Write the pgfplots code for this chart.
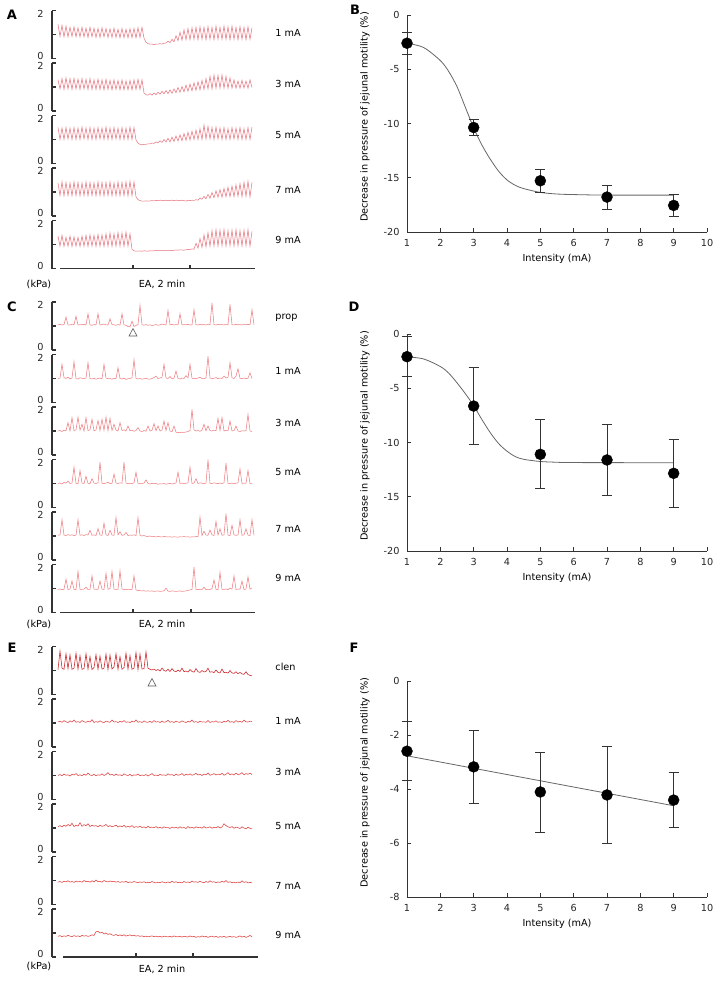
\documentclass[border=0pt]{standalone}
\usepackage{pgfplots}
\pgfplotsset{compat=1.18}
\usepackage{fontspec}
\setmainfont{DejaVu Sans}
\newcommand\fs{\fontsize{9.7bp}{11.5bp}\selectfont}
\newcommand\fl{\fontsize{13bp}{15bp}\selectfont\bfseries}
\definecolor{ta}{RGB}{232,122,132}
\definecolor{tc}{RGB}{238,128,132}
\definecolor{te}{RGB}{226,62,62}
\definecolor{teone}{RGB}{205,30,35}
\pgfplotsset{
 trace/.style={anchor=north west, scale only axis, width=203bp, height=48bp,
   xmin=-3, xmax=98.5, ymin=0, ymax=2, axis x line=none, axis y line=left,
   axis line style={-, line width=1.2bp, black!80},
   ytick={0,1,2}, yticklabels={\raisebox{-0.5bp}[0pt][0pt]{0},,\raisebox{-6.5bp}[0pt][0pt]{2}}, tick align=inside, major tick length=4bp,
   ytick style={line width=1.2bp, black!80},
   yticklabel style={font=\fs, xshift=-5bp, text=black!85}, clip=false},
 timeax/.style={anchor=south west, scale only axis, width=195bp, height=5bp,
   ymin=0, ymax=1, axis x line=bottom, axis y line=none,
   axis line style={-, line width=1.2bp, black!80},
   xticklabels={}, tick align=inside, major tick length=4bp,
   xtick style={line width=1.2bp, black!80}},
 rp/.style={anchor=south west, scale only axis, width=300bp,
   xmin=1, xmax=10, xtick={1,2,...,10}, axis lines=left,
   axis line style={-, line width=0.8bp, black!80},
   tick align=inside, major tick length=4bp, tick style={line width=0.8bp, black!80},
   ticklabel style={font=\fs, text=black!85},
   xticklabel style={yshift=-4bp}, yticklabel style={xshift=-4bp},
   xlabel={Intensity (mA)}, ylabel={Decrease in pressure of jejunal motility (\%)},
   label style={font=\fs, text=black!85},
   every axis x label/.style={at={(axis description cs:0.5,0)}, anchor=north, yshift=-19bp},
   every axis y label/.style={at={(axis description cs:-0.14,0.53)}, rotate=90, anchor=center},
   clip=false, /pgf/number format/assume math mode=true},
 fitline/.style={smooth, black!60, line width=0.8bp, mark=none},
 pts/.style={only marks, mark=*, mark size=5.5bp, black,
   error bars/.cd, y dir=both, y explicit,
   error bar style={line width=0.8bp, black!80},
   error mark options={rotate=90, mark size=5bp, line width=0.8bp, black!80}},
 tr/.style={line width=0.55bp, mark=none}
}
\begin{document}
\begin{tikzpicture}
\path[use as bounding box] (0,0) rectangle (720bp,-982bp);
\fs
% ================= Panel A =================
\node[font=\fl] at (12bp,-15bp) {A};
\begin{axis}[trace, at={(52bp,-10.5bp)}]
\addplot[tr, ta] table[row sep=\\, x expr=\coordindex, y=y] {y\\
1.42\\0.92\\1.38\\0.90\\1.35\\0.90\\1.30\\0.92\\1.32\\0.90\\
1.28\\0.90\\1.30\\0.90\\1.27\\0.88\\1.30\\0.90\\1.26\\0.88\\
1.25\\0.88\\1.28\\0.90\\1.25\\0.88\\1.24\\0.88\\1.26\\0.88\\
1.22\\0.86\\1.25\\0.87\\1.22\\0.86\\1.24\\0.87\\1.25\\0.86\\
1.28\\0.88\\1.30\\0.85\\0.68\\0.62\\0.60\\0.60\\0.58\\0.60\\
0.60\\0.62\\0.60\\0.63\\0.65\\0.72\\0.66\\0.80\\0.70\\0.95\\
0.74\\1.10\\0.76\\1.20\\0.78\\1.25\\0.78\\1.28\\0.80\\1.30\\
0.78\\1.32\\0.80\\1.30\\0.78\\1.33\\0.80\\1.30\\0.78\\1.35\\
0.80\\1.30\\0.80\\1.35\\0.80\\1.32\\0.78\\1.35\\0.80\\1.30\\
0.78\\1.33\\0.80\\1.30\\0.78\\1.32\\0.80\\1.28\\};
\end{axis}
\node[anchor=west] at (272bp,-33bp) {1 mA};
\begin{axis}[trace, at={(52bp,-63bp)}]
\addplot[tr, ta] table[row sep=\\, x expr=\coordindex, y=y] {y\\
1.30\\0.92\\1.35\\0.90\\1.38\\0.92\\1.35\\0.90\\1.36\\0.92\\
1.33\\0.90\\1.35\\0.92\\1.32\\0.90\\1.35\\0.90\\1.30\\0.90\\
1.33\\0.90\\1.30\\0.88\\1.32\\0.90\\1.28\\0.88\\1.30\\0.90\\
1.27\\0.88\\1.30\\0.88\\1.26\\0.88\\1.28\\0.88\\1.30\\0.90\\
1.32\\0.90\\1.30\\0.75\\0.68\\0.66\\0.72\\0.66\\0.75\\0.68\\
0.78\\0.70\\0.82\\0.72\\0.85\\0.72\\0.88\\0.74\\0.92\\0.76\\
0.98\\0.78\\1.02\\0.80\\1.08\\0.82\\1.12\\0.84\\1.18\\0.86\\
1.22\\0.88\\1.28\\0.90\\1.35\\0.92\\1.45\\0.92\\1.50\\0.95\\
1.48\\0.95\\1.50\\0.95\\1.45\\0.95\\1.38\\0.95\\1.30\\0.95\\
1.25\\0.95\\1.28\\0.96\\1.25\\0.95\\1.30\\0.98\\};
\end{axis}
\node[anchor=west] at (272bp,-84bp) {3 mA};
\begin{axis}[trace, at={(52bp,-115.5bp)}]
\addplot[tr, ta] table[row sep=\\, x expr=\coordindex, y=y] {y\\
1.50\\1.00\\1.48\\1.00\\1.50\\1.02\\1.47\\1.00\\1.50\\1.00\\
1.48\\1.00\\1.52\\1.02\\1.48\\1.00\\1.50\\1.00\\1.47\\1.00\\
1.50\\1.02\\1.48\\1.00\\1.52\\1.00\\1.48\\1.00\\1.50\\1.02\\
1.47\\1.00\\1.50\\1.00\\1.48\\1.00\\1.52\\1.00\\1.50\\0.98\\
0.85\\0.80\\0.78\\0.80\\0.80\\0.82\\0.82\\0.85\\0.84\\0.90\\
0.86\\0.95\\0.88\\1.00\\0.90\\1.05\\0.90\\1.10\\0.92\\1.15\\
0.94\\1.20\\0.95\\1.25\\0.96\\1.30\\0.98\\1.35\\1.00\\1.40\\
1.00\\1.45\\1.00\\1.60\\1.02\\1.55\\1.02\\1.50\\1.00\\1.52\\
1.02\\1.48\\1.00\\1.50\\1.00\\1.45\\1.00\\1.50\\1.02\\1.48\\
1.00\\1.50\\1.00\\1.45\\1.00\\1.50\\1.00\\1.52\\};
\end{axis}
\node[anchor=west] at (272bp,-135bp) {5 mA};
\begin{axis}[trace, at={(52bp,-168bp)}]
\addplot[tr, ta] table[row sep=\\, x expr=\coordindex, y=y] {y\\
1.38\\0.85\\1.42\\0.84\\1.40\\0.85\\1.38\\0.84\\1.42\\0.85\\
1.40\\0.84\\1.38\\0.85\\1.42\\0.84\\1.40\\0.85\\1.38\\0.84\\
1.42\\0.85\\1.40\\0.84\\1.40\\0.85\\1.42\\0.84\\1.38\\0.85\\
1.42\\0.84\\1.40\\0.85\\1.42\\0.84\\1.45\\0.85\\1.42\\0.80\\
0.68\\0.64\\0.62\\0.62\\0.63\\0.62\\0.63\\0.64\\0.63\\0.65\\
0.64\\0.66\\0.65\\0.64\\0.66\\0.64\\0.65\\0.66\\0.64\\0.66\\
0.65\\0.64\\0.66\\0.64\\0.62\\0.66\\0.64\\0.66\\0.65\\0.68\\
0.66\\0.75\\0.70\\0.82\\0.72\\0.90\\0.74\\0.98\\0.76\\1.05\\
0.78\\1.10\\0.78\\1.15\\0.80\\1.20\\0.80\\1.25\\0.80\\1.30\\
0.82\\1.35\\0.80\\1.40\\0.82\\1.45\\0.80\\1.40\\};
\end{axis}
\node[anchor=west] at (272bp,-190bp) {7 mA};
\begin{axis}[trace, at={(52bp,-220.5bp)}]
\addplot[tr, ta] table[row sep=\\, x expr=\coordindex, y=y] {y\\
1.35\\0.93\\1.38\\0.92\\1.30\\0.93\\1.35\\0.92\\1.32\\0.93\\
1.30\\0.92\\1.35\\0.93\\1.38\\0.92\\1.40\\0.93\\1.38\\0.92\\
1.42\\0.93\\1.40\\0.92\\1.45\\0.93\\1.48\\0.92\\1.45\\0.93\\
1.50\\0.93\\1.48\\0.92\\1.52\\0.93\\1.45\\0.80\\0.74\\0.72\\
0.72\\0.73\\0.72\\0.74\\0.73\\0.72\\0.74\\0.73\\0.74\\0.75\\
0.74\\0.75\\0.74\\0.76\\0.75\\0.74\\0.76\\0.75\\0.76\\0.77\\
0.76\\0.78\\0.77\\0.76\\0.78\\0.80\\0.78\\0.82\\0.80\\1.05\\
0.85\\1.25\\0.88\\1.40\\0.90\\1.50\\0.92\\1.58\\0.93\\1.62\\
0.93\\1.60\\0.95\\1.62\\0.93\\1.58\\0.95\\1.60\\0.93\\1.62\\
0.95\\1.58\\0.93\\1.60\\0.95\\1.62\\0.93\\1.55\\};
\end{axis}
\node[anchor=west] at (272bp,-240bp) {9 mA};
\begin{axis}[timeax, at={(60bp,-268.5bp)}, xmin=60, xmax=255, xtick={133,190}]
\end{axis}
\node at (39bp,-284bp) {(kPa)};
\node at (162bp,-284bp) {EA, 2 min};
% ================= Panel C =================
\node[font=\fl] at (12bp,-307bp) {C};
\begin{axis}[trace, at={(52bp,-302bp)}]
\addplot[tr, tc] table[row sep=\\, x expr=\coordindex, y=y] {y\\
1.05\\1.07\\1.04\\1.06\\1.37\\1.05\\1.04\\1.08\\1.05\\1.41\\
1.04\\1.06\\1.05\\1.07\\1.04\\1.51\\1.05\\1.03\\1.06\\1.05\\
1.51\\1.04\\1.06\\1.08\\1.05\\1.04\\1.30\\1.06\\1.05\\1.03\\
1.06\\1.04\\1.51\\1.05\\1.03\\0.98\\0.96\\1.20\\0.98\\1.02\\
1.06\\1.86\\1.05\\1.04\\1.06\\1.03\\1.05\\1.02\\1.04\\1.06\\
1.03\\1.05\\1.08\\1.06\\1.04\\1.65\\1.05\\1.07\\1.04\\1.06\\
1.05\\1.51\\1.04\\1.06\\1.05\\1.07\\1.04\\1.05\\1.68\\1.06\\
1.04\\1.07\\1.05\\1.06\\1.04\\1.08\\1.05\\1.96\\1.06\\1.04\\
1.07\\1.05\\1.06\\1.04\\1.08\\1.05\\1.90\\1.06\\1.04\\1.07\\
1.05\\1.06\\1.04\\1.08\\1.05\\1.07\\1.05\\1.68\\1.06\\};
\end{axis}
\node[anchor=west] at (272bp,-318bp) {prop};
\draw[black!65, line width=0.6bp] (129bp,-336bp) -- (137bp,-336bp) -- (133bp,-328.5bp) -- cycle;
\begin{axis}[trace, at={(52bp,-354.5bp)}]
\addplot[tr, tc] table[row sep=\\, x expr=\coordindex, y=y] {y\\
1.00\\1.02\\1.59\\1.04\\1.00\\1.06\\0.98\\1.02\\1.70\\1.00\\
0.98\\1.03\\1.01\\0.99\\1.02\\1.66\\1.00\\0.98\\1.01\\0.97\\
1.00\\1.02\\0.98\\1.59\\1.02\\0.99\\1.00\\0.97\\1.01\\0.99\\
1.45\\1.00\\0.98\\1.02\\0.96\\0.99\\1.00\\1.03\\1.79\\1.01\\
0.98\\1.00\\0.97\\0.99\\1.01\\0.98\\0.97\\1.00\\1.04\\1.10\\
1.00\\1.02\\1.05\\1.59\\1.02\\1.00\\1.08\\0.99\\1.01\\1.31\\
1.00\\0.98\\1.02\\1.00\\1.12\\1.03\\1.59\\1.01\\1.00\\0.99\\
1.02\\1.05\\1.00\\0.99\\1.03\\1.93\\1.02\\1.00\\1.01\\1.04\\
0.99\\1.02\\1.00\\1.10\\1.02\\1.05\\1.66\\1.03\\1.00\\1.10\\
1.41\\1.01\\1.00\\1.02\\0.99\\1.01\\1.24\\1.00\\};
\end{axis}
\node[anchor=west] at (272bp,-371bp) {1 mA};
\begin{axis}[trace, at={(52bp,-407bp)}]
\addplot[tr, tc] table[row sep=\\, x expr=\coordindex, y=y] {y\\
1.00\\1.02\\0.98\\1.04\\1.01\\1.35\\1.00\\1.56\\1.02\\1.05\\
1.58\\1.03\\1.28\\1.00\\1.56\\1.02\\1.05\\1.49\\1.01\\1.04\\
1.44\\1.02\\1.49\\1.03\\1.58\\1.01\\1.53\\1.02\\1.28\\1.04\\
1.00\\1.35\\1.02\\1.05\\1.00\\1.21\\1.01\\1.03\\0.99\\1.02\\
1.14\\1.00\\0.98\\1.02\\0.99\\1.21\\1.00\\1.03\\1.31\\1.01\\
1.21\\1.00\\1.04\\1.42\\1.02\\1.35\\1.00\\0.97\\1.21\\0.95\\
0.94\\0.93\\0.95\\0.94\\0.96\\0.98\\1.02\\1.90\\1.05\\1.00\\
1.02\\0.99\\1.03\\1.28\\1.01\\1.21\\1.02\\1.00\\1.04\\1.01\\
1.53\\1.02\\1.56\\1.00\\1.03\\1.01\\1.42\\1.00\\1.02\\1.21\\
1.00\\0.98\\1.01\\1.00\\1.02\\1.69\\1.00\\0.98\\};
\end{axis}
\node[anchor=west] at (272bp,-423bp) {3 mA};
\begin{axis}[trace, at={(52bp,-459.5bp)}]
\addplot[tr, tc] table[row sep=\\, x expr=\coordindex, y=y] {y\\
1.00\\1.02\\0.98\\1.05\\1.01\\1.10\\1.00\\1.02\\1.68\\1.01\\
0.99\\1.54\\1.02\\1.00\\1.30\\1.01\\0.99\\1.20\\1.02\\1.00\\
1.03\\1.89\\1.01\\0.99\\1.02\\1.05\\1.00\\1.01\\1.40\\1.02\\
1.00\\1.03\\1.01\\1.89\\1.02\\0.99\\1.01\\1.00\\1.03\\1.47\\
1.01\\0.99\\1.00\\1.02\\1.15\\1.00\\0.98\\1.01\\0.99\\1.00\\
0.97\\0.99\\0.98\\1.00\\0.97\\0.99\\1.01\\0.98\\1.00\\1.02\\
1.47\\1.00\\1.02\\0.99\\1.01\\1.03\\1.68\\1.00\\1.02\\1.20\\
1.00\\1.03\\1.01\\0.99\\1.02\\1.99\\1.01\\1.00\\1.03\\1.01\\
0.99\\1.02\\1.00\\1.03\\1.85\\1.01\\1.00\\1.02\\0.99\\1.01\\
1.03\\1.61\\1.00\\1.02\\1.01\\1.54\\1.00\\0.99\\};
\end{axis}
\node[anchor=west] at (272bp,-472bp) {5 mA};
\begin{axis}[trace, at={(52bp,-512bp)}]
\addplot[tr, tc] table[row sep=\\, x expr=\coordindex, y=y] {y\\
1.03\\1.05\\1.68\\1.04\\1.02\\1.06\\1.03\\1.05\\1.02\\1.04\\
1.68\\1.03\\1.05\\1.02\\1.06\\1.04\\1.24\\1.03\\1.05\\1.02\\
1.31\\1.04\\1.03\\1.54\\1.05\\1.02\\1.24\\1.04\\1.03\\1.77\\
1.05\\1.18\\1.03\\1.04\\1.15\\1.02\\1.04\\1.03\\1.05\\1.02\\
1.77\\1.03\\1.00\\1.02\\0.99\\0.98\\1.00\\0.97\\0.98\\0.96\\
0.98\\0.97\\0.96\\0.98\\0.97\\0.96\\0.97\\0.95\\0.97\\0.96\\
0.95\\0.97\\0.96\\0.98\\0.96\\0.97\\0.95\\0.97\\0.96\\0.98\\
0.97\\1.79\\1.02\\1.20\\1.04\\1.03\\1.25\\1.05\\1.02\\1.61\\
1.04\\1.30\\1.03\\1.05\\1.93\\1.04\\1.02\\1.45\\1.05\\1.03\\
1.04\\1.68\\1.03\\1.05\\1.30\\1.04\\1.02\\1.68\\1.04\\};
\end{axis}
\node[anchor=west] at (272bp,-529bp) {7 mA};
\begin{axis}[trace, at={(52bp,-564.5bp)}]
\addplot[tr, tc] table[row sep=\\, x expr=\coordindex, y=y] {y\\
0.96\\0.98\\0.95\\0.97\\1.39\\0.96\\0.98\\1.31\\0.97\\0.95\\
1.71\\0.97\\0.96\\0.98\\1.05\\0.96\\0.97\\1.53\\0.98\\0.96\\
0.97\\1.31\\0.98\\0.96\\1.63\\0.97\\1.00\\1.71\\0.98\\0.96\\
0.97\\1.74\\0.98\\0.96\\0.95\\0.97\\0.96\\0.95\\1.53\\0.94\\
0.92\\0.91\\0.90\\0.91\\0.89\\0.90\\0.89\\0.90\\0.88\\0.89\\
0.90\\0.88\\0.89\\0.90\\1.02\\0.89\\0.88\\0.90\\0.89\\0.88\\
0.89\\0.90\\0.88\\0.89\\0.90\\0.92\\0.94\\0.96\\1.89\\0.97\\
0.95\\0.97\\0.96\\1.05\\0.95\\0.97\\0.96\\1.00\\1.36\\0.97\\
0.95\\1.67\\0.97\\0.96\\0.98\\0.95\\1.02\\0.97\\1.53\\0.96\\
0.98\\0.97\\1.31\\0.96\\0.98\\1.49\\0.97\\1.03\\};
\end{axis}
\node[anchor=west] at (272bp,-578bp) {9 mA};
\begin{axis}[timeax, at={(60bp,-612.5bp)}, xmin=60, xmax=255, xtick={133,191}]
\end{axis}
\node at (39bp,-624bp) {(kPa)};
\node at (162bp,-624bp) {EA, 2 min};
% ================= Panel E =================
\node[font=\fl] at (12bp,-648bp) {E};
\begin{axis}[trace, at={(52bp,-646.5bp)}]
\addplot[tr, teone] table[row sep=\\, x expr=\coordindex, y=y] {y\\
1.04\\1.81\\1.10\\1.05\\1.70\\1.08\\1.65\\1.05\\1.10\\1.72\\
1.06\\1.62\\1.05\\1.08\\1.70\\1.06\\1.58\\1.04\\1.12\\1.66\\
1.05\\1.60\\1.06\\1.10\\1.68\\1.04\\1.64\\1.06\\1.15\\1.70\\
1.05\\1.58\\1.05\\1.12\\1.72\\1.06\\1.62\\1.05\\1.10\\1.75\\
1.04\\1.68\\1.06\\1.08\\1.78\\1.10\\1.05\\1.02\\1.06\\1.00\\
1.04\\0.98\\1.10\\1.00\\0.97\\1.05\\0.96\\1.08\\0.98\\0.95\\
1.02\\0.96\\1.10\\0.95\\0.98\\0.94\\1.04\\0.96\\0.93\\1.08\\
0.95\\0.92\\1.00\\0.94\\0.96\\1.10\\0.93\\0.95\\0.91\\1.02\\
0.92\\0.90\\1.06\\0.91\\0.93\\0.89\\1.00\\0.90\\0.88\\0.95\\
0.87\\0.92\\0.86\\0.84\\0.95\\0.83\\0.80\\0.78\\};
\end{axis}
\node[anchor=west] at (272bp,-667bp) {clen};
\draw[black!65, line width=0.6bp] (148bp,-686bp) -- (156bp,-686bp) -- (152bp,-678.5bp) -- cycle;
\begin{axis}[trace, at={(52bp,-699bp)}]
\addplot[tr, te] table[row sep=\\, x expr=\coordindex, y=y] {y\\
1.04\\1.08\\1.03\\1.10\\1.05\\1.02\\1.09\\1.04\\1.12\\1.03\\
1.06\\1.02\\1.10\\1.05\\1.03\\1.08\\1.04\\1.14\\1.02\\1.06\\
1.03\\1.09\\1.04\\1.02\\1.08\\1.05\\1.03\\1.12\\1.04\\1.06\\
1.02\\1.07\\1.04\\1.10\\1.03\\1.05\\1.02\\1.08\\1.04\\1.13\\
1.03\\1.06\\1.02\\1.09\\1.04\\1.03\\1.07\\1.02\\1.10\\1.04\\
1.06\\1.02\\1.08\\1.03\\1.05\\1.11\\1.03\\1.06\\1.02\\1.08\\
1.04\\1.03\\1.09\\1.05\\1.02\\1.07\\1.04\\1.12\\1.03\\1.06\\
1.02\\1.08\\1.04\\1.05\\1.03\\1.10\\1.02\\1.06\\1.04\\1.09\\
1.03\\1.05\\1.02\\1.08\\1.04\\1.11\\1.03\\1.06\\1.02\\1.10\\
1.04\\1.07\\1.03\\1.12\\1.05\\1.04\\1.08\\1.06\\};
\end{axis}
\node[anchor=west] at (272bp,-721bp) {1 mA};
\begin{axis}[trace, at={(52bp,-751.5bp)}]
\addplot[tr, te] table[row sep=\\, x expr=\coordindex, y=y] {y\\
1.00\\1.04\\0.99\\1.06\\1.01\\1.03\\0.98\\1.05\\1.02\\1.08\\
1.00\\1.03\\0.99\\1.06\\1.01\\1.10\\1.02\\1.00\\1.05\\0.99\\
1.03\\1.01\\1.07\\1.00\\1.04\\1.12\\1.02\\1.05\\1.00\\1.06\\
1.01\\1.03\\0.99\\1.07\\1.02\\1.00\\1.05\\0.98\\1.03\\1.01\\
1.06\\0.99\\1.02\\1.00\\1.04\\0.98\\1.03\\1.08\\1.00\\1.02\\
0.99\\1.05\\1.01\\1.03\\1.00\\1.07\\1.02\\1.04\\0.99\\1.06\\
1.01\\1.03\\1.08\\1.00\\1.05\\1.02\\1.07\\1.01\\1.04\\1.09\\
1.02\\1.05\\1.00\\1.06\\1.03\\1.10\\1.01\\1.04\\1.08\\1.02\\
1.06\\1.03\\1.09\\1.01\\1.05\\1.12\\1.03\\1.07\\1.02\\1.10\\
1.04\\1.06\\1.12\\1.03\\1.08\\1.05\\1.10\\1.04\\};
\end{axis}
\node[anchor=west] at (272bp,-772bp) {3 mA};
\begin{axis}[trace, at={(52bp,-804bp)}]
\addplot[tr, te] table[row sep=\\, x expr=\coordindex, y=y] {y\\
1.06\\1.10\\1.05\\1.12\\1.07\\1.15\\1.08\\1.20\\1.06\\1.12\\
1.08\\1.22\\1.07\\1.14\\1.10\\1.18\\1.06\\1.12\\1.08\\1.10\\
1.05\\1.12\\1.07\\1.09\\1.15\\1.06\\1.10\\1.05\\1.08\\1.12\\
1.04\\1.09\\1.05\\1.11\\1.03\\1.07\\1.04\\1.10\\1.02\\1.06\\
1.03\\1.08\\1.02\\1.05\\1.00\\1.07\\1.02\\1.04\\1.01\\1.06\\
1.00\\1.03\\0.99\\1.05\\1.01\\1.02\\0.98\\1.04\\1.00\\1.03\\
0.99\\1.05\\1.00\\1.02\\0.98\\1.06\\1.00\\1.03\\0.99\\1.05\\
1.01\\1.04\\0.99\\1.06\\1.00\\1.02\\1.05\\0.99\\1.03\\1.01\\
1.06\\1.00\\1.04\\1.18\\1.10\\1.05\\1.02\\1.06\\0.99\\1.04\\
1.01\\0.98\\1.05\\1.00\\0.97\\1.03\\0.99\\0.96\\};
\end{axis}
\node[anchor=west] at (272bp,-826bp) {5 mA};
\begin{axis}[trace, at={(52bp,-856.5bp)}]
\addplot[tr, te] table[row sep=\\, x expr=\coordindex, y=y] {y\\
0.93\\0.96\\0.92\\0.97\\0.94\\0.99\\0.93\\0.96\\0.92\\0.98\\
0.94\\0.96\\0.93\\1.00\\0.95\\0.97\\0.93\\0.99\\0.94\\1.02\\
0.95\\0.97\\0.93\\1.00\\0.96\\0.94\\0.98\\0.95\\0.97\\0.93\\
0.96\\0.92\\0.95\\0.93\\0.97\\0.91\\0.94\\0.92\\0.96\\0.93\\
0.91\\0.94\\0.92\\0.95\\0.90\\0.93\\0.91\\0.96\\0.92\\0.90\\
0.93\\0.91\\0.95\\0.92\\0.90\\0.94\\0.91\\0.97\\0.92\\0.95\\
0.91\\0.93\\0.90\\0.96\\0.92\\0.94\\0.91\\0.98\\0.93\\0.95\\
0.92\\0.97\\0.93\\0.91\\0.96\\0.92\\0.99\\0.93\\0.95\\0.91\\
0.94\\0.92\\0.97\\0.93\\1.00\\0.92\\0.95\\0.91\\0.93\\0.90\\
0.94\\0.91\\0.99\\0.92\\0.95\\0.90\\0.92\\0.91\\};
\end{axis}
\node[anchor=west] at (272bp,-886bp) {7 mA};
\begin{axis}[trace, at={(52bp,-909bp)}]
\addplot[tr, te] table[row sep=\\, x expr=\coordindex, y=y] {y\\
0.86\\0.89\\0.85\\0.88\\0.86\\0.90\\0.87\\0.85\\0.89\\0.86\\
0.88\\0.85\\0.90\\0.87\\0.89\\0.86\\0.88\\0.92\\0.90\\1.05\\
1.07\\1.00\\1.03\\0.96\\1.00\\0.94\\0.97\\0.92\\0.90\\0.94\\
0.89\\0.92\\0.88\\0.93\\0.87\\0.90\\0.92\\0.88\\0.91\\0.87\\
0.89\\0.86\\0.88\\0.85\\0.87\\0.84\\0.86\\0.88\\0.85\\0.87\\
0.84\\0.86\\0.83\\0.87\\0.85\\0.84\\0.86\\0.83\\0.88\\0.85\\
0.84\\0.87\\0.83\\0.86\\0.85\\0.83\\0.88\\0.84\\0.86\\0.82\\
0.85\\0.83\\0.88\\0.84\\0.86\\0.82\\0.85\\0.87\\0.83\\0.86\\
0.82\\0.85\\0.83\\0.87\\0.82\\0.84\\0.86\\0.83\\0.85\\0.82\\
0.84\\0.88\\0.83\\0.86\\0.82\\0.85\\0.90\\0.84\\};
\end{axis}
\node[anchor=west] at (272bp,-935bp) {9 mA};
\begin{axis}[timeax, at={(63bp,-957bp)}, xmin=63, xmax=258, xtick={136,193}]
\end{axis}
\node at (39bp,-966bp) {(kPa)};
\node at (162bp,-969bp) {EA, 2 min};
% ================= Panel B =================
\node[font=\fl] at (355bp,-10bp) {B};
\begin{axis}[rp, at={(407bp,-232bp)}, height=217bp, ymin=-20, ymax=0, ytick={0,-5,-10,-15,-20}]
\addplot[fitline] coordinates {(1,-2.6) (1.5,-3.0) (2,-4.2) (2.25,-5.2) (2.5,-6.6) (2.75,-8.5) (3,-10.4) (3.25,-12.0) (3.5,-13.3) (3.75,-14.4) (4,-15.2) (4.25,-15.7) (4.5,-16.0) (5,-16.35) (5.5,-16.5) (6,-16.55) (7,-16.6) (9,-16.6)};
\addplot[pts] table[row sep=\\, x=x, y=y, y error=e] {x y e\\
1 -2.6 1.0\\ 3 -10.37 0.75\\ 5 -15.28 1.05\\ 7 -16.78 1.1\\ 9 -17.55 1.0\\};
\end{axis}
% ================= Panel D =================
\node[font=\fl] at (354bp,-307bp) {D};
\begin{axis}[rp, at={(407bp,-551bp)}, height=217bp, ymin=-20, ymax=0, ytick={0,-5,-10,-15,-20}]
\addplot[fitline] coordinates {(1,-2.1) (1.5,-2.3) (2,-3.0) (2.25,-3.6) (2.5,-4.5) (2.75,-5.5) (3,-6.6) (3.25,-7.9) (3.5,-9.1) (3.75,-10.1) (4,-10.8) (4.25,-11.3) (4.5,-11.55) (5,-11.75) (5.5,-11.82) (6,-11.85) (9,-11.86)};
\addplot[pts] table[row sep=\\, x=x, y=y, y error=e] {x y e\\
1 -2.09 1.85\\ 3 -6.64 3.58\\ 5 -11.09 3.18\\ 7 -11.61 3.28\\ 9 -12.84 3.12\\};
\end{axis}
% ================= Panel F =================
\node[font=\fl] at (354bp,-648bp) {F};
\begin{axis}[rp, at={(407bp,-897bp)}, height=216bp, ymin=-8, ymax=0, ytick={0,-2,-4,-6,-8}]
\addplot[black!60, line width=0.8bp, mark=none] coordinates {(1,-2.77) (9,-4.62)};
\addplot[pts] table[row sep=\\, x=x, y=y, y error=e] {x y e\\
1 -2.6 1.09\\ 3 -3.18 1.34\\ 5 -4.11 1.48\\ 7 -4.22 1.8\\ 9 -4.41 1.02\\};
\end{axis}
\end{tikzpicture}
\end{document}
